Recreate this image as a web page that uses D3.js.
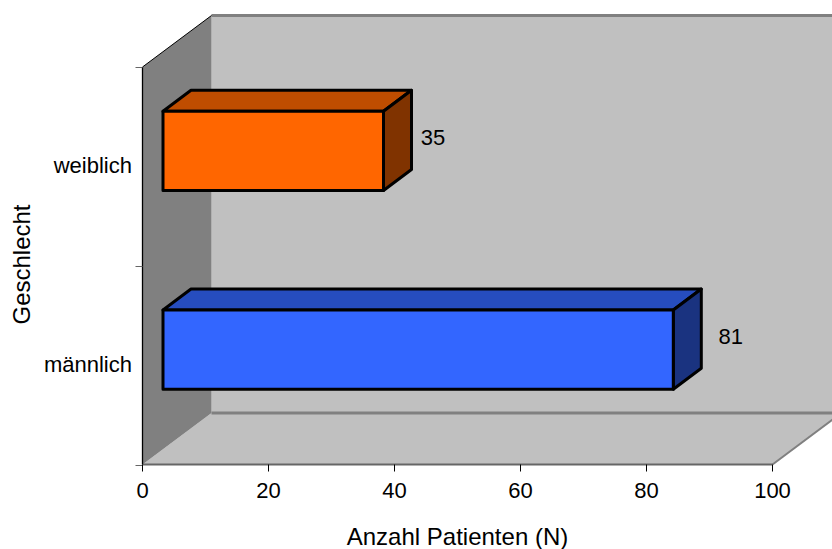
<!DOCTYPE html>
<html><head><meta charset="utf-8">
<script src="https://cdn.jsdelivr.net/npm/d3@7/dist/d3.min.js"></script>
<style>html,body{margin:0;padding:0;background:#fff}svg{display:block}text{font-family:"Liberation Sans",Arial,sans-serif;font-size:22px;fill:#000}text.title{font-size:24px}</style>
</head><body><svg width="832" height="549"></svg>
<script>
const categories = ["weiblich","männlich"];
const values = [35,81];
const frontColors = ["#ff6600","#3366ff"];
const topColors = ["#bf4d00","#264dbf"];
const sideColors = ["#803300","#1a3380"];
const xTicks = [0,20,40,60,80,100];
const xTitle = "Anzahl Patienten (N)";
const yTitle = "Geschlecht";

const svg=d3.select("svg");
const x=d3.scaleLinear().domain([0,100]).range([142.5,772.5]);
const y=d3.scaleBand().domain(categories).range([67,464.5]).paddingInner(0.602).paddingOuter(0.301);
const depth={dx:69,dy:-51.5};       // wall depth
const barShift={dx:20.5,dy:-15.5}; // bar front offset into the depth
const barDepth={dx:28,dy:-21};    // bar own depth
const labelShift=[49.5,57.5];
const x0=x(0),x1=x(100),yT=67,yB=464.5;
const poly=(pts,fill,extra={})=>{
  const p=svg.append("path").attr("d","M"+pts.map(d=>d.join(",")).join("L")+"Z").attr("fill",fill).attr("stroke","none");
  Object.entries(extra).forEach(([k,v])=>p.attr(k,v));return p;};
const line=(a,b,stroke,w)=>svg.append("line").attr("x1",a[0]).attr("y1",a[1]).attr("x2",b[0]).attr("y2",b[1]).attr("stroke",stroke).attr("stroke-width",w);

// back wall, floor, left wall
poly([[x0+depth.dx,yT+depth.dy],[x1+depth.dx,yT+depth.dy],[x1+depth.dx,yB+depth.dy],[x0+depth.dx,yB+depth.dy]],"#c0c0c0");
poly([[x0,yB],[x1,yB],[x1+depth.dx,yB+depth.dy],[x0+depth.dx,yB+depth.dy]],"#c0c0c0");
poly([[x0,yT],[x0+depth.dx,yT+depth.dy],[x0+depth.dx,yB+depth.dy],[x0,yB]],"#808080");
// grey edges
line([x0+depth.dx,yT+depth.dy],[x1+depth.dx,yT+depth.dy],"#808080",3);
line([x0+depth.dx,yB+depth.dy],[x1+depth.dx,yB+depth.dy],"#808080",3);
line([x1,yB],[x1+depth.dx,yB+depth.dy],"#808080",2);
line([x0,yT],[x0+depth.dx,yT+depth.dy],"#000",1);
line([x0,yB],[x1,yB],"#666",2);
line([x0,yT],[x0,yB],"#000",1.3);

// axes ticks
const yTickPos=[...categories.map(c=>y(c)+y.bandwidth()/2-y.step()/2),yB];
yTickPos.forEach(p=>line([x0-7,Math.round(p)+.5],[x0,Math.round(p)+.5],"#666",1));
xTicks.forEach(t=>{
  line([x(t),yB],[x(t),yB+7],"#000",1);
  svg.append("text").attr("x",x(t)).attr("y",498).attr("text-anchor","middle").text(t);
});
categories.forEach(c=>{
  svg.append("text").attr("x",132).attr("y",y(c)+y.bandwidth()/2+7).attr("text-anchor","end").text(c);
});

// bars
categories.forEach((c,i)=>{
  const l=x(0)+barShift.dx, r=x(values[i])+barShift.dx, t=y(c)+barShift.dy, b=t+y.bandwidth();
  const dx=barDepth.dx, dy=barDepth.dy;
  const st={stroke:"#000","stroke-width":3,"stroke-linejoin":"round"};
  poly([[l,t],[l+dx,t+dy],[r+dx,t+dy],[r,t]],topColors[i],st);
  poly([[r,t],[r+dx,t+dy],[r+dx,b+dy],[r,b]],sideColors[i],st);
  poly([[l,t],[r,t],[r,b],[l,b]],frontColors[i],st);
  svg.append("text").attr("x",x(values[i])+labelShift[i]+barShift.dx).attr("y",(t+b)/2+dy/2+5).attr("text-anchor","middle").text(values[i]);
});

svg.append("text").attr("class","title").attr("x",457.5).attr("y",544.5).attr("text-anchor","middle").text(xTitle);
svg.append("text").attr("class","title").attr("transform","translate(30,264.5) rotate(-90)").attr("text-anchor","middle").text(yTitle);
</script></body></html>
